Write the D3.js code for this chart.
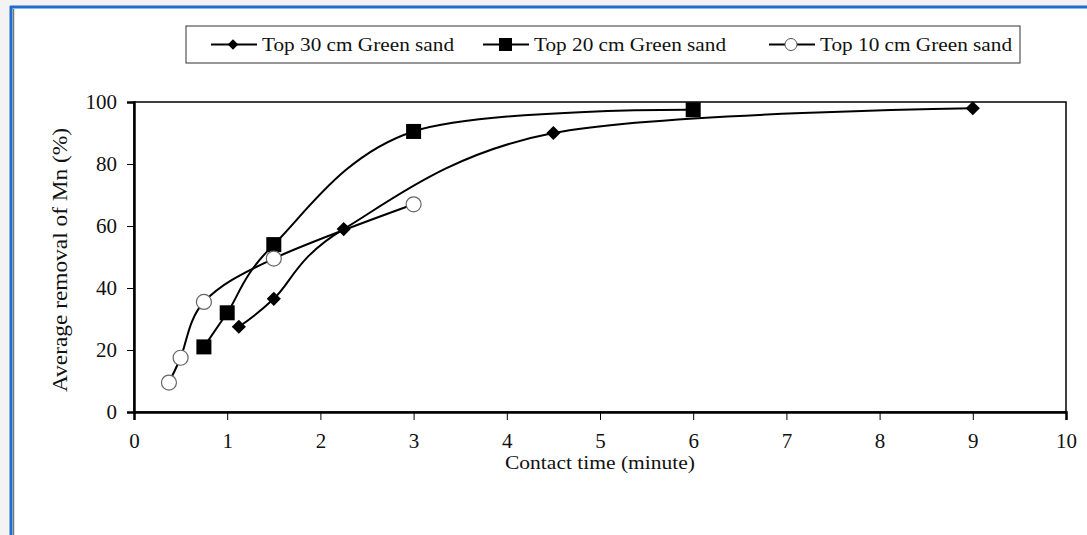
<!DOCTYPE html>
<html>
<head>
<meta charset="utf-8">
<script src="https://cdn.jsdelivr.net/npm/d3@7/dist/d3.min.js"></script>
<style>
  html, body { margin: 0; padding: 0; background: #f3f3f3; }
  svg { display: block; }
</style>
</head>
<body>
<svg id="chart" width="1087" height="535"></svg>
<script>
// Contact time (minutes) and Mn removal (%) for each green-sand depth
const series30x = [1.125, 1.5, 2.25, 4.5, 9];
const series30y = [27.5, 36.5, 59, 90, 98];
const series20x = [0.75, 1, 1.5, 3, 6];
const series20y = [21, 32, 54, 90.5, 97.5];
const series10x = [0.375, 0.5, 0.75, 1.5, 3];
const series10y = [9.5, 17.5, 35.5, 49.5, 67];
const seriesNames = ["Top 30 cm Green sand", "Top 20 cm Green sand", "Top 10 cm Green sand"];
const xTicks = [0, 1, 2, 3, 4, 5, 6, 7, 8, 9, 10];
const yTicks = [0, 20, 40, 60, 80, 100];

const svg = d3.select("#chart");
const font = "'Liberation Serif', 'Times New Roman', serif";

// window frame
svg.append("rect").attr("x", 10).attr("y", 6).attr("width", 1077).attr("height", 529).attr("fill", "#fff");
svg.append("line").attr("x1", 10).attr("x2", 1087).attr("y1", 7).attr("y2", 7)
  .attr("stroke", "#1c6fcf").attr("stroke-width", 3);
svg.append("line").attr("x1", 11).attr("x2", 11).attr("y1", 6).attr("y2", 535)
  .attr("stroke", "#1c6fcf").attr("stroke-width", 3);
svg.append("line").attr("x1", 13.5).attr("x2", 13.5).attr("y1", 9).attr("y2", 535)
  .attr("stroke", "#777").attr("stroke-width", 1.5);

const m = { left: 134, right: 1066, top: 102, bottom: 412 };
const x = d3.scaleLinear().domain([0, 10]).range([m.left, m.right]);
const y = d3.scaleLinear().domain([0, 100]).range([m.bottom, m.top]);

// plot box
svg.append("rect").attr("x", m.left).attr("y", m.top)
  .attr("width", m.right - m.left).attr("height", m.bottom - m.top)
  .attr("fill", "none").attr("stroke", "#000").attr("stroke-width", 1.5);

const xAxis = svg.append("g").attr("transform", `translate(0,${m.bottom})`)
  .call(d3.axisBottom(x).tickValues(xTicks).tickSize(8).tickPadding(13).tickFormat(d3.format("d")));
const yAxis = svg.append("g").attr("transform", `translate(${m.left},0)`)
  .call(d3.axisLeft(y).tickValues(yTicks).tickSize(7).tickPadding(10).tickFormat(d3.format("d")));
[xAxis, yAxis].forEach(g => {
  g.select(".domain").attr("stroke", "#000").attr("stroke-width", 2.5);
  g.selectAll(".tick line").attr("stroke", "#000").attr("stroke-width", 1);
  g.selectAll(".tick text").attr("fill", "#111").style("font-family", font).style("font-size", "21px");
});

// axis titles
svg.append("text").attr("x", 600).attr("y", 469).attr("text-anchor", "middle")
  .style("font-family", font).style("font-size", "19px").attr("fill", "#111")
  .attr("textLength", 190).attr("lengthAdjust", "spacingAndGlyphs")
  .text("Contact time (minute)");
svg.append("text").attr("transform", `translate(67,${(m.top + m.bottom) / 2 + 3}) rotate(-90)`)
  .attr("text-anchor", "middle")
  .style("font-family", font).style("font-size", "21px").attr("fill", "#111")
  .attr("textLength", 264).attr("lengthAdjust", "spacingAndGlyphs")
  .text("Average removal of Mn (%)");

const line = d3.line().x(d => x(d[0])).y(d => y(d[1])).curve(d3.curveCardinal.tension(0));
const zip = (xs, ys) => xs.map((v, i) => [v, ys[i]]);
const data = [zip(series30x, series30y), zip(series20x, series20y), zip(series10x, series10y)];

data.forEach(pts => {
  svg.append("path").attr("d", line(pts)).attr("fill", "none")
    .attr("stroke", "#000").attr("stroke-width", 2);
});

function drawMarker(g, kind, cx, cy) {
  if (kind === 0) {
    g.append("path").attr("d", d3.symbol().type(d3.symbolSquare).size(100)())
      .attr("transform", `translate(${cx},${cy}) rotate(45)`).attr("fill", "#000");
  } else if (kind === 1) {
    g.append("rect").attr("x", cx - 7.5).attr("y", cy - 7.5).attr("width", 15).attr("height", 15).attr("fill", "#000");
  } else {
    g.append("circle").attr("cx", cx).attr("cy", cy).attr("r", 7.5)
      .attr("fill", "#fff").attr("stroke", "#666").attr("stroke-width", 1.2);
  }
}
const markers = svg.append("g");
data.forEach((pts, k) => pts.forEach(p => drawMarker(markers, k, x(p[0]), y(p[1]))));

// legend
const leg = svg.append("g");
leg.append("rect").attr("x", 186).attr("y", 26).attr("width", 834).attr("height", 37)
  .attr("fill", "#fff").attr("stroke", "#333").attr("stroke-width", 1);
const legX = [211, 483, 769];
const legMid = 44.5;
seriesNames.forEach((name, k) => {
  const x0 = legX[k];
  leg.append("line").attr("x1", x0).attr("x2", x0 + 46).attr("y1", legMid).attr("y2", legMid)
    .attr("stroke", "#000").attr("stroke-width", 2);
  const mk = leg.append("g");
  if (k === 0) {
    mk.append("path").attr("d", d3.symbol().type(d3.symbolSquare).size(55)())
      .attr("transform", `translate(${x0 + 22},${legMid}) rotate(45)`).attr("fill", "#000");
  } else if (k === 1) {
    mk.append("rect").attr("x", x0 + 16).attr("y", legMid - 6.5).attr("width", 13).attr("height", 13).attr("fill", "#000");
  } else {
    mk.append("circle").attr("cx", x0 + 22).attr("cy", legMid).attr("r", 6)
      .attr("fill", "#fff").attr("stroke", "#555").attr("stroke-width", 1);
  }
  leg.append("text").attr("x", x0 + 51).attr("y", legMid + 6.5)
    .style("font-family", font).style("font-size", "19px").attr("fill", "#111")
    .attr("textLength", 192).attr("lengthAdjust", "spacingAndGlyphs")
    .text(name);
});
</script>
</body>
</html>
